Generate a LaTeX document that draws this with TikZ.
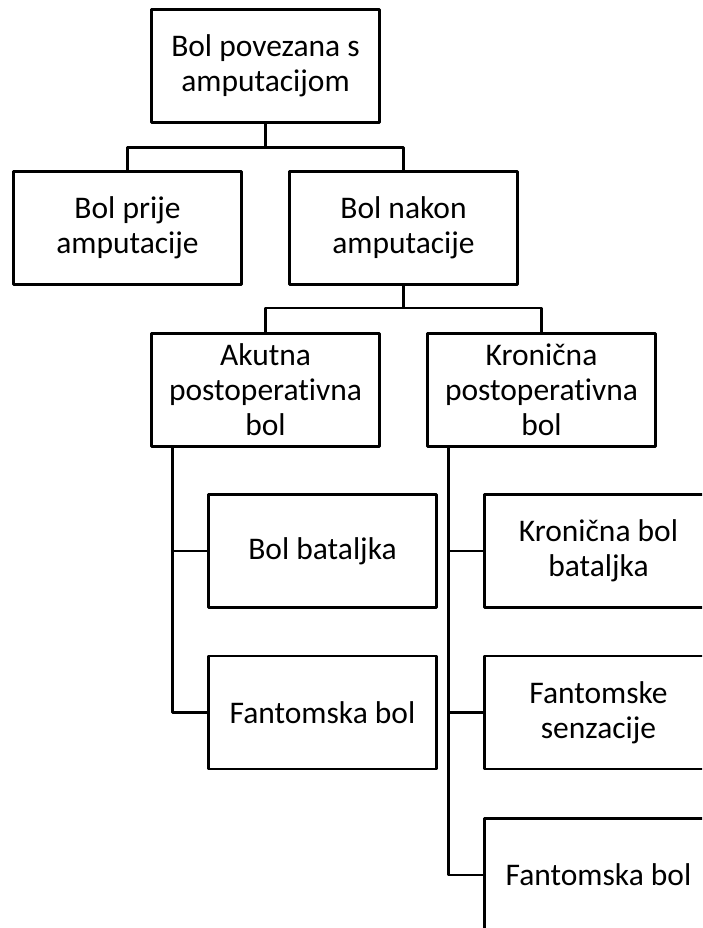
\documentclass[tikz,border=0pt]{standalone}
\usepackage{fontspec}
\setmainfont{Carlito}[Ligatures=NoCommon]
\usepackage{tikz}

\begin{document}
\begin{tikzpicture}[line cap=round,line join=round,x=1pt,y=-1pt,
        box/.style={draw,line width=2.8pt,rectangle,minimum width=228pt,minimum height=113pt,inner sep=0pt,align=center,font=\fontsize{31.5}{35}\selectfont},
        veza/.style={line width=2.8pt,line cap=butt}]
        \useasboundingbox (0,0) rectangle (702,928);
        \clip (0,0) rectangle (702,928);
        \node[box] (vrh) at (265.5,66) {Bol povezana s\\amputacijom};
        \node[box] (prije) at (127.5,228) {Bol prije\\amputacije};
        \node[box] (nakon) at (403.5,228) {Bol nakon\\amputacije};
        \node[box] (akutna) at (265.5,390) {Akutna\\postoperativna\\bol};
        \node[box] (kronicna) at (541.5,390) {Kronična\\postoperativna\\bol};
        \node[box] (bataljka) at (322.5,551) {Bol bataljka};
        \node[box] (fantomL) at (322.5,712.5) {Fantomska bol};
        \node[box] (kronbat) at (598.5,551) {Kronična bol\\bataljka};
        \node[box] (senzacije) at (598.5,712.5) {Fantomske\\senzacije};
        \node[box] (fantomR) at (598.5,875) {Fantomska bol};
        \draw [veza] (vrh.south) -- ++(0,24) -| (prije.north);
        \draw [veza] (vrh.south) -- ++(0,24) -| (nakon.north);
        \draw [veza] (nakon.south) -- ++(0,22) -| (akutna.north);
        \draw [veza] (nakon.south) -- ++(0,22) -| (kronicna.north);
        \draw [veza] ([xshift=22pt]akutna.south west) |- (bataljka.west);
        \draw [veza] ([xshift=22pt]akutna.south west) |- (fantomL.west);
        \draw [veza] ([xshift=22pt]kronicna.south west) |- (kronbat.west);
        \draw [veza] ([xshift=22pt]kronicna.south west) |- (senzacije.west);
        \draw [veza] ([xshift=22pt]kronicna.south west) |- (fantomR.west);
    \end{tikzpicture}
\end{document}
